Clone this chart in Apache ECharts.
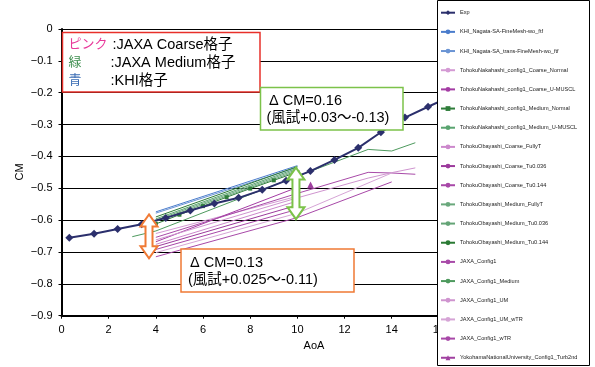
<!DOCTYPE html>
<html><head><meta charset="utf-8">
<script src="https://cdn.jsdelivr.net/npm/echarts@6/dist/echarts.min.js"></script>
<style>html,body{margin:0;padding:0;background:#fff}#c{width:595px;height:367px}</style>
</head><body><div id="c"></div>
<script>
const FONT = '"Liberation Sans", Arial, "Noto Sans CJK JP", sans-serif';

// ---- data ----
const xTicks = { min: 0, max: 16, interval: 2 };
const yTicks = { min: -0.9, max: 0, interval: 0.1 };

const expAoA = [0.33, 1.38, 2.38, 3.40, 4.42, 5.46, 6.48, 7.51, 8.51, 9.52, 10.55, 11.57, 12.58, 13.54, 14.56, 15.54, 16.55];
const expCM  = [-0.655, -0.643, -0.628, -0.613, -0.593, -0.570, -0.548, -0.530, -0.505, -0.476, -0.446, -0.411, -0.373, -0.324, -0.278, -0.244, -0.210];

const khiFine          = [[4, -0.574], [10, -0.429]];
const khiTrans         = [[4, -0.578], [10, -0.434]];
const nakCoarseNormal  = [[4, -0.642], [10, -0.525]];
const nakCoarseUMUSCL  = [[4, -0.668], [10, -0.497]];
const nakMediumNormal  = [[4, -0.612], [5, -0.583], [6, -0.556], [7, -0.528], [8, -0.501], [9, -0.475], [10, -0.449]];
const nakMediumUMUSCL  = [[4, -0.596], [10, -0.437]];
const obaCoarseFullyT  = [[4, -0.676], [10, -0.540]];
const obaCoarseTu036   = [[4, -0.683], [10, -0.553]];
const obaCoarseTu144   = [[4, -0.692], [10, -0.566]];
const obaMediumFullyT  = [[4, -0.600], [10, -0.441]];
const obaMediumTu036   = [[4, -0.604], [10, -0.445]];
const obaMediumTu144   = [[4, -0.590], [10, -0.432]];
const jaxaConfig1      = [[4, -0.654], [10, -0.516], [13, -0.450], [14, -0.452], [15, -0.456]];
const jaxaConfig1Med   = [[3, -0.652], [4, -0.634], [10, -0.462], [13, -0.378], [14, -0.383], [15, -0.357]];
const jaxaConfig1UM    = [[4, -0.662], [10, -0.530], [13, -0.468], [14, -0.451], [15, -0.436]];
const jaxaConfig1UMwTR = [[4, -0.702], [10, -0.578], [14, -0.452]];
const jaxaConfig1wTR   = [[4, -0.715], [10, -0.592], [14, -0.480]];
const yokohamaTurb2nd  = [[10.56, -0.490]];

// annotation anchors (data coords)
const orangeArrow = { x: 3.71, top: -0.582, bottom: -0.720 };
const greenArrow  = { x: 9.94, top: -0.435, bottom: -0.597 };

// ---- series ----
const defs = [
  { name: 'Exp', data: expAoA.map((x, i) => [x, expCM[i]]), color: '#2b2f6c', symbol: 'diamond', size: 8, width: 2, z: 5 },
  { name: 'KHI_Nagata-SA-FineMesh-wo_ftf', data: khiFine, color: '#4a7ccc' },
  { name: 'KHI_Nagata-SA_trans-FineMesh-wo_ftf', data: khiTrans, color: '#6a94d4' },
  { name: 'TohokuNakahashi_config1_Coarse_Normal', data: nakCoarseNormal, color: '#d49ad4' },
  { name: 'TohokuNakahashi_config1_Coarse_U-MUSCL', data: nakCoarseUMUSCL, color: '#a43ca4' },
  { name: 'TohokuNakahashi_config1_Medium_Normal', data: nakMediumNormal, color: '#2f7d3a', symbol: 'rect', size: 4 },
  { name: 'TohokuNakahashi_config1_Medium_U-MUSCL', data: nakMediumUMUSCL, color: '#5aa470' },
  { name: 'TohokuObayashi_Coarse_FullyT', data: obaCoarseFullyT, color: '#cc88cc' },
  { name: 'TohokuObayashi_Coarse_Tu0.036', data: obaCoarseTu036, color: '#9c3a9c' },
  { name: 'TohokuObayashi_Coarse_Tu0.144', data: obaCoarseTu144, color: '#a848a8' },
  { name: 'TohokuObayashi_Medium_FullyT', data: obaMediumFullyT, color: '#6aa87c' },
  { name: 'TohokuObayashi_Medium_Tu0.036', data: obaMediumTu036, color: '#64a476' },
  { name: 'TohokuObayashi_Medium_Tu0.144', data: obaMediumTu144, color: '#2b7a34' },
  { name: 'JAXA_Config1', data: jaxaConfig1, color: '#a84aa8' },
  { name: 'JAXA_Config1_Medium', data: jaxaConfig1Med, color: '#4e9a5e' },
  { name: 'JAXA_Config1_UM', data: jaxaConfig1UM, color: '#cf94cf' },
  { name: 'JAXA_Config1_UM_wTR', data: jaxaConfig1UMwTR, color: '#d6a4d6' },
  { name: 'JAXA_Config1_wTR', data: jaxaConfig1wTR, color: '#a848a8' },
  { name: 'YokohamaNationalUniversity_Config1_Turb2nd', data: yokohamaTurb2nd, color: '#a040a0', symbol: 'triangle', size: 7 }
];

const series = defs.map(d => ({
  name: d.name,
  type: 'line',
  data: d.data,
  z: d.z || 2,
  clip: true,
  symbol: d.symbol || 'none',
  symbolSize: d.size || 4,
  showSymbol: !!d.symbol,
  itemStyle: { color: d.color, borderWidth: 0 },
  lineStyle: { color: d.color, width: d.width || 1 },
  emphasis: { disabled: true },
  animation: false
}));

const chart = echarts.init(document.getElementById('c'), null, { renderer: 'canvas' });

const baseOption = {
  animation: false,
  backgroundColor: '#fff',
  textStyle: { fontFamily: FONT },
  grid: { left: 61.5, top: 29, right: 156.1, bottom: 51.3, containLabel: false },
  xAxis: {
    type: 'value', min: xTicks.min, max: xTicks.max, interval: xTicks.interval,
    axisLine: { onZero: false, lineStyle: { color: '#000', width: 2 } },
    axisTick: { show: true, inside: false, length: 3, lineStyle: { color: '#000', width: 1 } },
    axisLabel: { color: '#000', fontSize: 11, margin: 9, fontFamily: FONT },
    splitLine: { show: false }
  },
  yAxis: {
    type: 'value', min: yTicks.min, max: yTicks.max, interval: yTicks.interval,
    axisLine: { show: true, lineStyle: { color: '#000', width: 2 } },
    axisTick: { show: true, inside: false, length: 3, lineStyle: { color: '#000', width: 1 } },
    axisLabel: {
      color: '#000', fontSize: 11, margin: 9, fontFamily: FONT,
      formatter: v => (Math.abs(v) < 1e-9 ? '0' : (v < 0 ? '\u2212' : '') + Math.abs(v).toFixed(1))
    },
    splitLine: { show: true, lineStyle: { color: '#000', width: 1 } }
  },
  legend: {
    orient: 'vertical', left: 440, top: 9.7, z: 60, padding: 0,
    itemWidth: 14, itemHeight: 6, itemGap: 13.17,
    textStyle: { fontSize: 5.6, lineHeight: 6, color: '#222', fontFamily: FONT },
    selectedMode: false,
    data: defs.map(d => d.name)
  },
  series: series
};

chart.setOption(baseOption);

function arrowPoints(cx, ty, by) {
  const hw = 8.5, sw = 3.5, hh = 12;
  return [[cx, ty], [cx + hw, ty + hh], [cx + sw, ty + hh], [cx + sw, by - hh], [cx + hw, by - hh],
          [cx, by], [cx - hw, by - hh], [cx - sw, by - hh], [cx - sw, ty + hh], [cx - hw, ty + hh]];
}
function arrowFromData(a) {
  const p1 = chart.convertToPixel({ gridIndex: 0 }, [a.x, a.top]);
  const p2 = chart.convertToPixel({ gridIndex: 0 }, [a.x, a.bottom]);
  return arrowPoints(p1[0], p1[1], p2[1]);
}

const T = (text, x, y, color, size) => ({
  type: 'text', z: 40, style: { text, x, y, fill: color, font: size + 'px ' + FONT, verticalAlign: 'middle', align: 'left' }
});

chart.setOption({
  graphic: [
    // legend frame
    { type: 'rect', z: 50, shape: { x: 437.5, y: 0.5, width: 152, height: 365 }, style: { fill: '#fff', stroke: '#000', lineWidth: 1 } },
    // red key box
    { type: 'rect', z: 30, shape: { x: 62.5, y: 32.5, width: 197.5, height: 59.5 }, style: { fill: '#fff', stroke: '#e8302a', lineWidth: 1.5 } },
    T('ピンク', 68.5, 44.5, '#e8399a', 13),
    T(':JAXA Coarse格子', 112.5, 44.5, '#000', 14.5),
    T('緑', 68.5, 62.5, '#3f8f50', 13),
    T(':JAXA Medium格子', 110.5, 62.5, '#000', 14.5),
    T('青', 68.5, 80.5, '#3a6cb4', 13),
    T(':KHI格子', 110.5, 80.5, '#000', 14.5),
    // green annotation box
    { type: 'rect', z: 30, shape: { x: 260.5, y: 87.5, width: 142.5, height: 42.5 }, style: { fill: '#fff', stroke: '#7cc24a', lineWidth: 1.5 } },
    T('Δ CM=0.16', 269, 101, '#000', 14.5),
    T('(風試+0.03～-0.13)', 266.5, 118, '#000', 14.5),
    // orange annotation box
    { type: 'rect', z: 30, shape: { x: 181, y: 249, width: 173, height: 43 }, style: { fill: '#fff', stroke: '#f07a35', lineWidth: 1.5 } },
    T('Δ CM=0.13', 190, 262.5, '#000', 14.5),
    T('(風試+0.025～-0.11)', 188, 280, '#000', 14.5),
    // arrows
    { type: 'polygon', z: 35, shape: { points: arrowFromData(orangeArrow) }, style: { fill: '#fff', stroke: '#f07a35', lineWidth: 2 } },
    { type: 'polygon', z: 35, shape: { points: arrowFromData(greenArrow) }, style: { fill: '#fff', stroke: '#7cc24a', lineWidth: 2 } },
    // axis titles
    { type: 'text', z: 40, x: 20, y: 172, rotation: Math.PI / 2, style: { text: 'CM', x: 0, y: 0, fill: '#000', font: '11px ' + FONT, align: 'center', verticalAlign: 'middle' } },
    { type: 'text', z: 40, style: { text: 'AoA', x: 314, y: 346, fill: '#000', font: '11px ' + FONT, align: 'center', verticalAlign: 'middle' } }
  ]
});
</script></body></html>
